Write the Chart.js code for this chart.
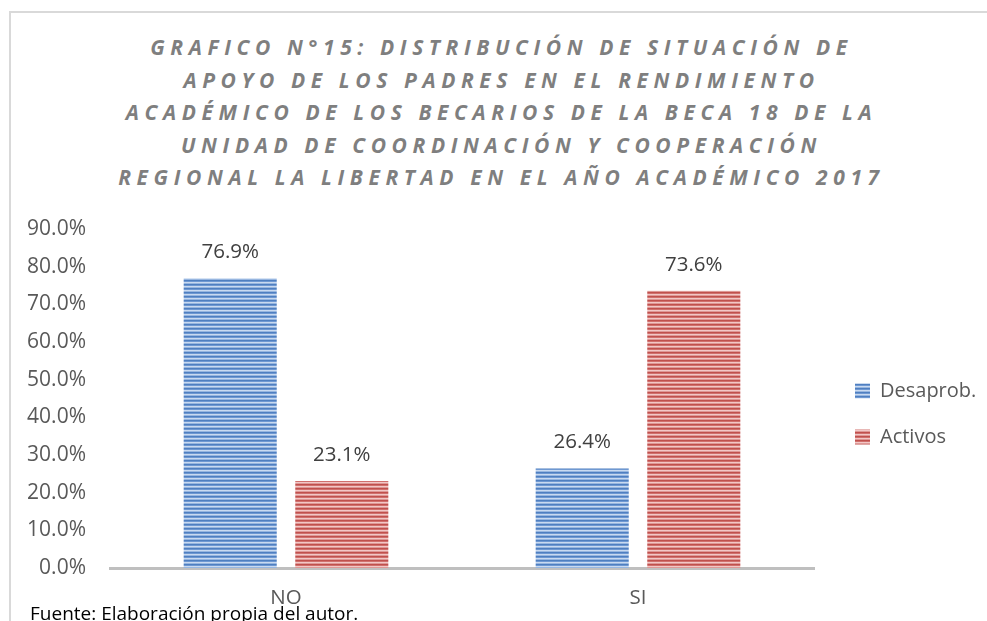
<!DOCTYPE html>
<html>
<head>
<meta charset="utf-8">
<script src="https://cdn.jsdelivr.net/npm/chart.js@4"></script>
<style>
  html, body { margin: 0; padding: 0; background: #fff; }
  #wrap { position: relative; width: 987px; height: 621px; overflow: hidden; background: #fff; }
  #frame { position: absolute; left: 9px; top: 11px; right: -5px; bottom: -5px; border-left: 2px solid #d9d9d9; border-top: 2px solid #d9d9d9; }
  #title { position: absolute; left: 13px; width: 977px; top: 31px; text-align: center;
    font-family: "Open Sans", sans-serif; font-weight: bold; font-style: italic; font-size: 21px;
    letter-spacing: 5.6px; line-height: 32.5px; color: #7f7f7f; white-space: nowrap; }
  #fuente { position: absolute; left: 30px; top: 600px; font-family: "Open Sans", sans-serif; font-size: 19px; color: #000; white-space: nowrap; }
  canvas { position: absolute; left: 0; top: 0; }
</style>
</head>
<body>
<div id="wrap">
  <div id="frame"></div>
  <div id="title">GRAFICO N°15: DISTRIBUCIÓN DE SITUACIÓN DE<br>APOYO DE LOS PADRES EN EL RENDIMIENTO<br>ACADÉMICO DE LOS BECARIOS DE LA BECA 18 DE LA<br>UNIDAD DE COORDINACIÓN Y COOPERACIÓN<br>REGIONAL LA LIBERTAD EN EL AÑO ACADÉMICO 2017</div>
  <canvas id="c" width="987" height="621"></canvas>
  <div id="fuente">Fuente: Elaboración propia del autor.</div>
</div>
<script>
const categories = ["NO", "SI"];
const seriesNames = ["Desaprob.", "Activos"];
const desaprob = [76.9, 26.4];
const activos = [23.1, 73.6];
const yTicks = [0, 10, 20, 30, 40, 50, 60, 70, 80, 90];

function stripes(rows) {
  const p = document.createElement('canvas');
  p.width = 4; p.height = rows.length;
  const g = p.getContext('2d');
  rows.forEach((col, i) => { g.fillStyle = col; g.fillRect(0, i, 4, 1); });
  return g.createPattern(p, 'repeat');
}
const ctx = document.getElementById('c').getContext('2d');
const bluePat = stripes(['#4f7fc0', '#6e98d2', '#c9daf0', '#97b6e0']);
const redPat = stripes(['#c0504d', '#d0706d', '#f2c7c6', '#de9896']);

const LEGEND_PAD = 26;
const layoutFix = {
  id: 'layoutFix',
  afterInit(chart) {
    const lg = chart.legend;
    const orig = lg.fit.bind(lg);
    lg.fit = function () { orig(); this.width = 173; };
  },
  afterLayout(chart) {
    const lg = chart.legend;
    const w = lg.width;
    lg.left = 855 - LEGEND_PAD; lg.right = lg.left + w;
    lg.top -= 7; lg.bottom -= 7;
  }
};
const valueLabels = {
  id: 'valueLabels',
  afterDatasetsDraw(chart) {
    const c = chart.ctx;
    c.save();
    c.font = '20.5px "Open Sans", sans-serif';
    c.fillStyle = '#404040';
    c.textAlign = 'center';
    c.textBaseline = 'middle';
    chart.data.datasets.forEach((ds, i) => {
      chart.getDatasetMeta(i).data.forEach((bar, j) => {
        c.fillText(ds.data[j].toFixed(1) + '%', bar.x, bar.y - 26);
      });
    });
    c.restore();
  }
};

new Chart(ctx, {
  type: 'bar',
  data: {
    labels: categories,
    datasets: [
      { label: seriesNames[0], data: desaprob, backgroundColor: bluePat, borderWidth: 0 },
      { label: seriesNames[1], data: activos, backgroundColor: redPat, borderWidth: 0 }
    ]
  },
  options: {
    responsive: false,
    animation: false,
    devicePixelRatio: 1,
    layout: { padding: { top: 229, left: 10, right: 0, bottom: 8 } },
    datasets: { bar: { categoryPercentage: 0.634, barPercentage: 0.834 } },
    scales: {
      x: {
        grid: { display: false, drawTicks: false },
        border: { display: true, color: '#bfbfbf', width: 3 },
        ticks: { color: '#595959', font: { family: '"Open Sans", sans-serif', size: 20.5 }, padding: 18 },
        afterFit(s) { s.height = 45; }
      },
      y: {
        min: 0, max: 90,
        afterBuildTicks(s) { s.ticks = yTicks.map(v => ({ value: v })); },
        grid: { display: false, drawTicks: false },
        border: { display: false },
        ticks: { color: '#595959', font: { family: '"Open Sans", sans-serif', size: 21 }, padding: 24,
          callback: v => v.toFixed(1) + '%' },
        afterFit(s) { s.width = 100; }
      }
    },
    plugins: {
      title: { display: false },
      tooltip: { enabled: false },
      legend: {
        position: 'right',
        labels: { boxWidth: 15, boxHeight: 15, padding: LEGEND_PAD, color: '#595959',
          font: { family: '"Open Sans", sans-serif', size: 20 } }
      }
    }
  },
  plugins: [layoutFix, valueLabels]
});
</script>
</body>
</html>
